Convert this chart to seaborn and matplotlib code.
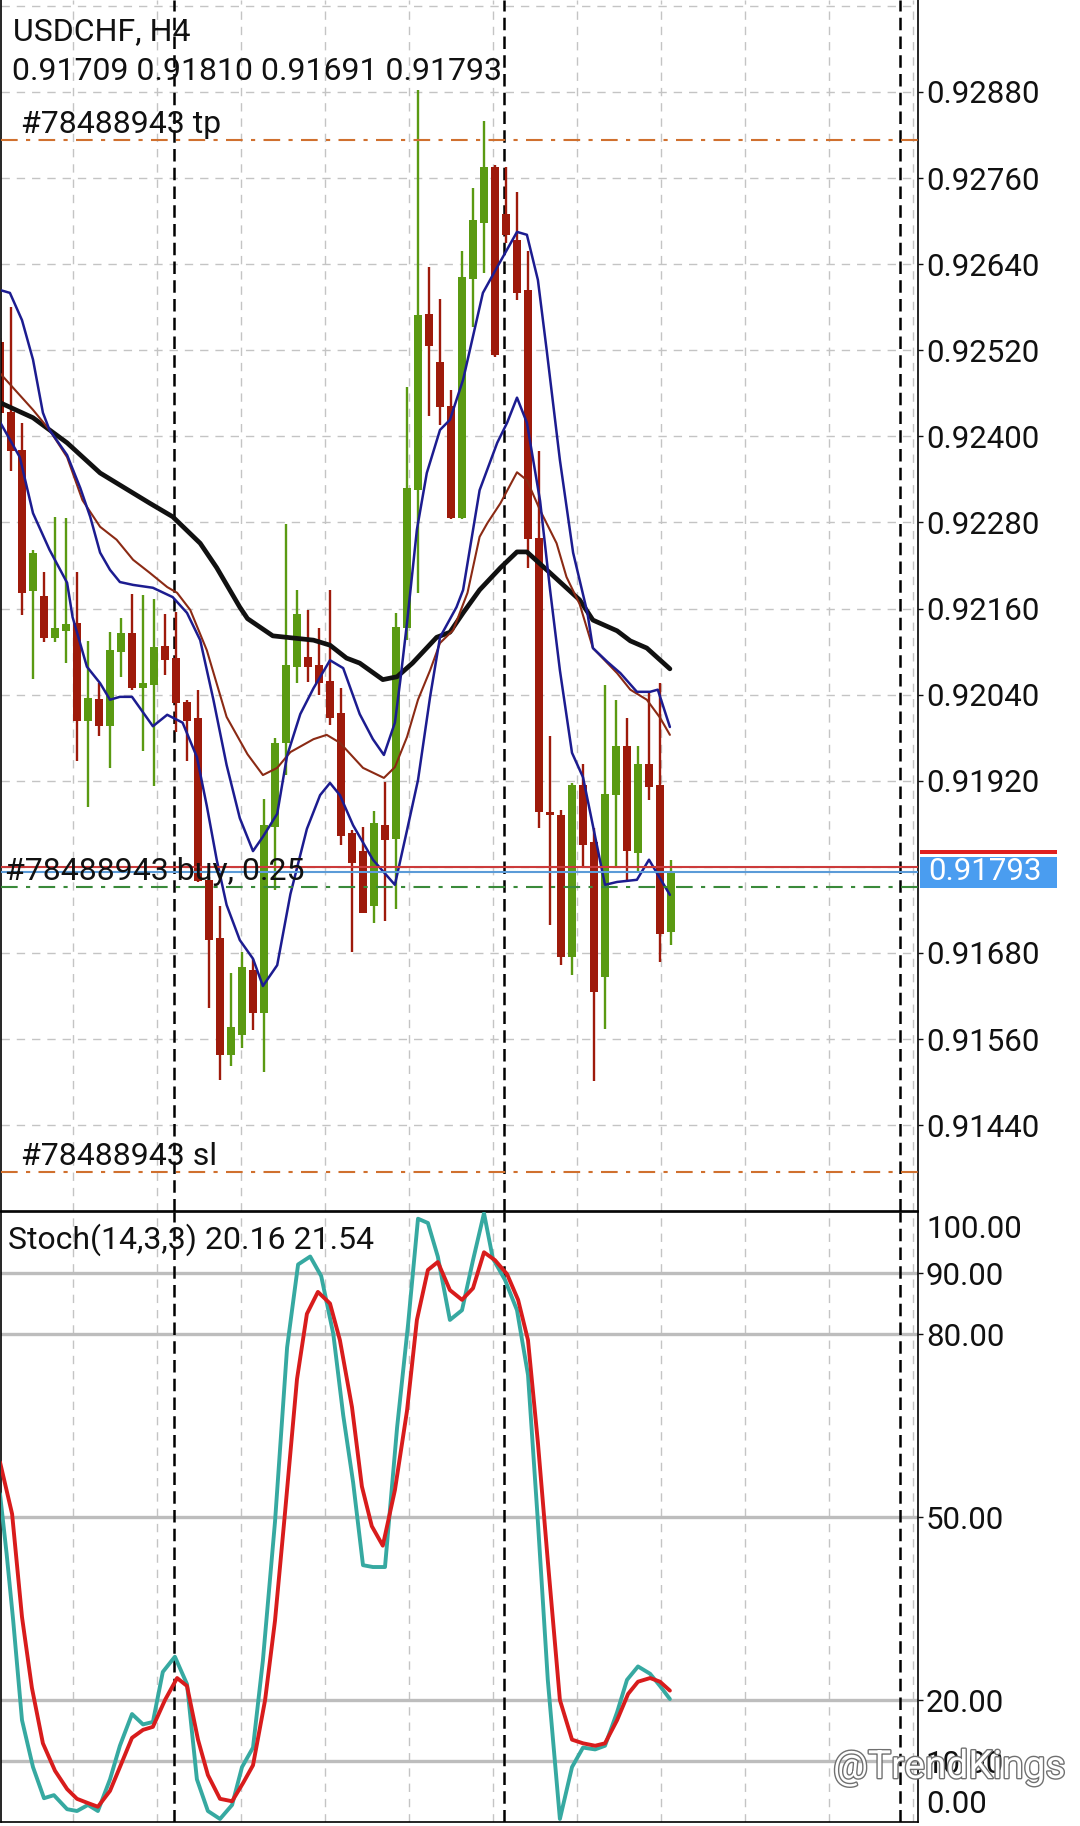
import matplotlib
matplotlib.use("Agg")
import matplotlib.pyplot as plt
import matplotlib.patheffects as pe
import matplotlib.transforms as mtransforms
from matplotlib.patches import Rectangle
import seaborn as sns

# ---------------- data ----------------
SYMBOL = "USDCHF, H4"
ORDER_ID = "#78488943"

OPEN = [0.92531, 0.92434, 0.92381, 0.92184, 0.92178, 0.92119, 0.92129, 0.92140, 0.92004, 0.92034,
        0.91996, 0.92100, 0.92126, 0.92049, 0.92054, 0.92108, 0.92091, 0.92030, 0.92007, 0.91782,
        0.91701, 0.91538, 0.91565, 0.91656, 0.91596, 0.91856, 0.91973, 0.92079, 0.92093, 0.92081,
        0.92059, 0.92015, 0.91847, 0.91822, 0.91745, 0.91859, 0.91839, 0.92133, 0.92325, 0.92571,
        0.92504, 0.92443, 0.92286, 0.92619, 0.92698, 0.92775, 0.92710, 0.92674, 0.92604, 0.92258,
        0.91877, 0.91873, 0.91675, 0.91914, 0.91834, 0.91647, 0.91900, 0.91968, 0.91819, 0.91944,
        0.91914, 0.91709]
HIGH = [0.92537, 0.92581, 0.92418, 0.92242, 0.92211, 0.92288, 0.92286, 0.92211, 0.92115, 0.92056,
        0.92127, 0.92147, 0.92181, 0.92179, 0.92173, 0.92152, 0.92155, 0.92033, 0.92046, 0.91786,
        0.91746, 0.91652, 0.91682, 0.91672, 0.91895, 0.91980, 0.92278, 0.92186, 0.92158, 0.92133,
        0.92186, 0.92050, 0.91851, 0.91856, 0.91878, 0.91918, 0.92154, 0.92469, 0.92883, 0.92636,
        0.92591, 0.92465, 0.92659, 0.92746, 0.92839, 0.92778, 0.92775, 0.92741, 0.92659, 0.92379,
        0.91983, 0.91879, 0.91917, 0.91944, 0.91854, 0.92054, 0.92033, 0.92007, 0.91968, 0.92042,
        0.92056, 0.91810]
LOW = [0.92430, 0.92352, 0.92151, 0.92062, 0.92113, 0.92114, 0.92084, 0.91948, 0.91883, 0.91983,
       0.91938, 0.92064, 0.92047, 0.91962, 0.91913, 0.92068, 0.91988, 0.91948, 0.91779, 0.91603,
       0.91503, 0.91523, 0.91548, 0.91573, 0.91514, 0.91768, 0.91928, 0.92056, 0.92058, 0.92040,
       0.91998, 0.91831, 0.91682, 0.91736, 0.91722, 0.91724, 0.91741, 0.92116, 0.92182, 0.92428,
       0.92416, 0.92285, 0.92285, 0.92553, 0.92628, 0.92511, 0.92670, 0.92590, 0.92216, 0.91854,
       0.91719, 0.91663, 0.91649, 0.91800, 0.91502, 0.91574, 0.91800, 0.91780, 0.91793, 0.91893,
       0.91667, 0.91691]
CLOSE = [0.92432, 0.92380, 0.92182, 0.92237, 0.92119, 0.92133, 0.92139, 0.92004, 0.92035, 0.91996,
         0.92102, 0.92126, 0.92050, 0.92056, 0.92106, 0.92089, 0.92028, 0.92004, 0.91780, 0.91698,
         0.91538, 0.91577, 0.91660, 0.91596, 0.91858, 0.91973, 0.92081, 0.92153, 0.92079, 0.92056,
         0.92008, 0.91843, 0.91805, 0.91736, 0.91861, 0.91838, 0.92134, 0.92328, 0.92569, 0.92526,
         0.92441, 0.92286, 0.92622, 0.92701, 0.92775, 0.92514, 0.92681, 0.92600, 0.92257, 0.91876,
         0.91873, 0.91675, 0.91914, 0.91831, 0.91625, 0.91901, 0.91968, 0.91822, 0.91944, 0.91912,
         0.91707, 0.91793]

# indicator lines: bar position, price
UP_X = [0.0, 0.9, 2.0, 3.0, 3.9, 4.5, 6.1, 7.3, 8.2, 9.1, 10.0, 10.9, 12.1, 13.9, 15.7, 17.0, 18.2,
        19.4, 20.6, 21.8, 23.0, 23.9, 25.2, 26.1, 27.3, 28.5, 30.0, 31.2, 32.7, 33.9, 34.9, 35.9,
        36.4, 37.0, 37.9, 38.8, 40.0, 40.9, 42.1, 43.9, 45.2, 47.0, 47.9, 48.9, 49.7, 50.9, 52.1,
        53.4, 53.9, 55.2, 56.4, 57.9, 59.1, 59.8, 60.9]
UP_Y = [0.92604, 0.92600, 0.92562, 0.92507, 0.92433, 0.92409, 0.92374, 0.92328, 0.92288, 0.92238,
        0.92214, 0.92197, 0.92193, 0.92189, 0.92176, 0.92154, 0.92116, 0.92033, 0.91942, 0.91868,
        0.91822, 0.91842, 0.91874, 0.91955, 0.92013, 0.92049, 0.92088, 0.92077, 0.92013, 0.91978,
        0.91956, 0.92001, 0.92061, 0.92140, 0.92270, 0.92349, 0.92409, 0.92423, 0.92479, 0.92600,
        0.92636, 0.92685, 0.92681, 0.92618, 0.92520, 0.92367, 0.92238, 0.92154, 0.92105, 0.92086,
        0.92070, 0.92044, 0.92044, 0.92047, 0.91995]
LO_X = [0.0, 1.8, 3.0, 4.5, 6.1, 6.6, 7.9, 9.1, 10.0, 10.9, 12.0, 13.9, 15.2, 16.6, 17.9, 18.8, 19.7,
        20.6, 21.8, 23.0, 23.9, 25.2, 26.4, 27.9, 29.1, 30.0, 30.9, 32.1, 33.9, 35.9, 37.0, 38.0,
        39.1, 40.0, 41.5, 42.1, 43.6, 45.2, 46.1, 47.0, 47.9, 49.1, 50.0, 50.9, 52.0, 53.0, 55.0,
        56.1, 57.9, 59.0, 60.9]
LO_Y = [0.92420, 0.92371, 0.92293, 0.92242, 0.92196, 0.92148, 0.92079, 0.92056, 0.92033, 0.92037,
        0.92037, 0.91996, 0.92012, 0.92001, 0.91953, 0.91885, 0.91810, 0.91747, 0.91698, 0.91672,
        0.91634, 0.91663, 0.91762, 0.91853, 0.91900, 0.91917, 0.91900, 0.91858, 0.91810, 0.91775,
        0.91851, 0.91921, 0.92037, 0.92120, 0.92162, 0.92186, 0.92325, 0.92391, 0.92419, 0.92454,
        0.92419, 0.92310, 0.92187, 0.92074, 0.91959, 0.91925, 0.91775, 0.91779, 0.91782, 0.91810,
        0.91761]
MID_X = [0.0, 3.0, 4.5, 6.1, 7.5, 9.1, 10.6, 12.1, 13.6, 15.2, 16.1, 17.3, 18.8, 20.6, 22.5, 23.9,
         25.2, 26.4, 28.5, 29.7, 30.9, 33.0, 34.9, 35.9, 37.0, 38.0, 39.1, 40.0, 41.2, 42.5, 43.6,
         44.3, 45.5, 47.0, 47.9, 49.1, 50.6, 51.5, 52.7, 53.9, 56.1, 57.3, 58.8, 60.0, 60.9]
MID_Y = [0.92488, 0.92437, 0.92409, 0.92371, 0.92311, 0.92274, 0.92256, 0.92228, 0.92210, 0.92190,
         0.92182, 0.92158, 0.92102, 0.92009, 0.91957, 0.91928, 0.91938, 0.91960, 0.91978, 0.91984,
         0.91973, 0.91938, 0.91924, 0.91939, 0.91981, 0.92033, 0.92074, 0.92112, 0.92130, 0.92182,
         0.92260, 0.92279, 0.92307, 0.92350, 0.92339, 0.92297, 0.92251, 0.92204, 0.92166, 0.92105,
         0.92070, 0.92047, 0.92033, 0.92008, 0.91984]
MA_X = [0.0, 3.0, 6.1, 9.1, 12.1, 13.6, 15.7, 18.2, 19.7, 21.8, 22.5, 24.8, 28.5, 30.0, 31.5, 32.7,
        34.8, 36.1, 37.5, 39.7, 40.9, 42.1, 43.6, 45.5, 47.0, 47.9, 49.7, 51.2, 52.7, 53.9, 56.1,
        57.3, 58.8, 60.9]
MA_Y = [0.92447, 0.92426, 0.92391, 0.92349, 0.92321, 0.92307, 0.92288, 0.92251, 0.92217, 0.92162,
        0.92146, 0.92122, 0.92116, 0.92109, 0.92091, 0.92084, 0.92061, 0.92065, 0.92084, 0.92120,
        0.92127, 0.92154, 0.92186, 0.92217, 0.92239, 0.92239, 0.92214, 0.92193, 0.92172, 0.92144,
        0.92129, 0.92115, 0.92105, 0.92076]

# stochastic (14,3,3)
K_X = [0.0, 0.6, 1.2, 2.0, 3.0, 4.0, 4.9, 6.1, 7.0, 8.0, 8.9, 10.0, 10.9, 12.0, 13.0, 13.9, 14.8,
       15.9, 17.0, 17.9, 18.9, 20.0, 21.1, 22.0, 23.0, 23.9, 25.0, 26.1, 27.1, 28.2, 29.2, 30.3,
       31.2, 32.1, 33.0, 33.9, 35.0, 36.1, 37.1, 38.0, 38.9, 39.8, 40.9, 42.0, 43.0, 44.0, 44.8,
       45.9, 47.0, 48.0, 48.9, 49.8, 50.9, 52.0, 53.0, 54.1, 55.0, 56.1, 57.0, 58.0, 59.1, 60.0, 60.9]
K_V = [53.8, 44.0, 33.0, 16.7, 9.0, 3.9, 4.4, 2.1, 1.8, 2.8, 1.8, 7.0, 12.5, 17.7, 16.0, 16.4, 24.6,
       27.1, 22.6, 7.0, 1.8, 0.5, 2.8, 9.0, 12.2, 26.5, 49.2, 77.8, 91.4, 92.7, 89.5, 80.0, 66.7,
       55.7, 42.1, 41.8, 41.8, 64.7, 81.6, 98.9, 98.2, 92.7, 82.3, 83.9, 92.1, 99.8, 92.4, 88.9,
       83.9, 73.3, 49.2, 23.3, 0.5, 9.0, 12.2, 11.9, 12.5, 18.0, 23.3, 25.5, 24.3, 22.3, 20.16]
D_X = [0.0, 1.1, 2.0, 2.9, 3.9, 5.0, 6.1, 7.0, 8.0, 8.9, 10.0, 10.9, 12.0, 13.0, 13.9, 15.0, 16.1,
       17.0, 18.0, 18.9, 20.0, 21.1, 22.1, 23.0, 24.1, 25.0, 25.9, 27.0, 27.9, 28.9, 30.0, 30.9,
       32.0, 32.9, 33.8, 34.8, 35.9, 37.0, 37.9, 38.9, 39.8, 40.9, 42.0, 43.0, 44.0, 45.0, 46.1,
       47.1, 48.0, 48.9, 49.8, 50.9, 52.0, 53.0, 54.1, 55.0, 56.1, 57.1, 58.0, 59.1, 60.0, 60.9]
D_V = [59.0, 50.5, 33.6, 22.0, 12.9, 8.4, 5.4, 3.8, 3.1, 2.5, 5.1, 9.0, 13.8, 15.1, 15.6, 20.0, 23.6,
       22.3, 13.5, 7.7, 3.8, 3.4, 6.4, 9.3, 20.0, 33.0, 50.5, 72.6, 83.3, 86.9, 85.0, 79.0, 68.0,
       55.0, 48.5, 45.3, 54.4, 67.4, 82.3, 90.5, 91.8, 87.2, 85.6, 87.5, 93.4, 92.1, 89.8, 85.6,
       79.0, 62.2, 42.8, 20.0, 13.5, 12.9, 12.5, 12.9, 16.7, 21.0, 23.0, 23.6, 23.0, 21.54]

PRICE_TICKS = [0.91440, 0.91560, 0.91680, 0.91920, 0.92040, 0.92160, 0.92280, 0.92400,
               0.92520, 0.92640, 0.92760, 0.92880]
PRICE_GRID = [0.91440, 0.91560, 0.91680, 0.91800, 0.91920, 0.92040, 0.92160, 0.92280, 0.92400,
              0.92520, 0.92640, 0.92760, 0.92880, 0.93000]
STOCH_LEVELS = [10, 20, 50, 80, 90]

TP_PRICE = 0.92813
SL_PRICE = 0.91375
ENTRY_PRICE = 0.91772
ASK_PRICE = 0.91800
BID_PRICE = 0.91793

# ---------------- styling / layout ----------------
sns.set_theme(style="white")
plt.rcParams['font.family'] = ['Roboto', 'DejaVu Sans']

W, H = 1080, 1826
BAR_PX = 11.0
L_PX, R_PX = 1, 918
MAIN_BOT = 1211
STO_TOP, STO_BOT = 1212, 1822

fig = plt.figure(figsize=(W / 100, H / 100), dpi=100)
fig.patch.set_facecolor("white")
ax = fig.add_axes([L_PX / W, 1 - MAIN_BOT / H, (R_PX - L_PX) / W, MAIN_BOT / H])
ax2 = fig.add_axes([L_PX / W, 1 - STO_BOT / H, (R_PX - L_PX) / W, (STO_BOT - STO_TOP) / H])

RED = "#9e1a0b"
GREEN = "#5a9a12"
NAVY = "#1c1c90"
BROWN = "#8b2a14"
TEXT = "#111111"
GRID = "#c4c4c4"

grid_px = [72.7 + 84.0 * k for k in range(11)]
sep_px = [174, 504, 900]

for a in (ax, ax2):
    a.set_facecolor("white")
    for gx in grid_px:
        a.axvline(gx / BAR_PX, color=GRID, lw=1.0, ls=(0, (6, 5)), zorder=0.5)
    for sx in sep_px:
        a.axvline(sx / BAR_PX, color="black", lw=1.8, ls=(0, (5, 2.5)), zorder=1.5)

for gy in PRICE_GRID:
    ax.axhline(gy, color=GRID, lw=1.0, ls=(0, (6, 5)), zorder=0.5)

# candles
idx = list(range(len(OPEN)))
cols = [GREEN if c >= o else RED for o, c in zip(OPEN, CLOSE)]
ax.vlines(idx, LOW, HIGH, colors=cols, lw=1.7, zorder=2)
bottoms = [min(o, c) for o, c in zip(OPEN, CLOSE)]
heights = [max(abs(c - o), 0.00003) for o, c in zip(OPEN, CLOSE)]
ax.bar(idx, heights, bottom=bottoms, width=0.68, color=cols, edgecolor="none", zorder=2.2)

# indicator lines
sns.lineplot(x=MA_X, y=MA_Y, ax=ax, color="#111111", lw=3.4, sort=False, estimator=None, zorder=3)
sns.lineplot(x=MID_X, y=MID_Y, ax=ax, color=BROWN, lw=1.5, sort=False, estimator=None, zorder=3.1)
sns.lineplot(x=UP_X, y=UP_Y, ax=ax, color=NAVY, lw=1.8, sort=False, estimator=None, zorder=3.2)
sns.lineplot(x=LO_X, y=LO_Y, ax=ax, color=NAVY, lw=1.8, sort=False, estimator=None, zorder=3.2)

# order / price lines
ax.axhline(TP_PRICE, color="#d0702e", lw=1.5, ls=(0, (8, 4, 2, 4)), zorder=4)
ax.axhline(SL_PRICE, color="#d0702e", lw=1.5, ls=(0, (8, 4, 2, 4)), zorder=4)
ax.axhline(ENTRY_PRICE, color="#3a8a3a", lw=1.5, ls=(0, (8, 4, 2, 4)), zorder=4)
ax.axhline(ASK_PRICE, color="#cc3b3b", lw=1.5, zorder=4)
ax.axhline(BID_PRICE, color="#5b9bd8", lw=1.5, zorder=4)

ax.set_xlim(L_PX / BAR_PX, R_PX / BAR_PX)
ax.set_ylim(0.913204, 0.930082)
ax.set_xticks([])
ax.yaxis.tick_right()
ax.set_yticks(PRICE_TICKS)
ax.set_yticklabels([f"{t:.5f}" for t in PRICE_TICKS])
ax.tick_params(axis="y", which="both", right=True, left=False, length=3.6, width=1.0,
               pad=2.0, labelsize=22.5, colors=TEXT, direction="out")
ax.set_xlabel("")
ax.set_ylabel("")
for s in ("left", "right", "bottom"):
    ax.spines[s].set_visible(True)
    ax.spines[s].set_color("black")
    ax.spines[s].set_linewidth(1.2)
ax.spines["top"].set_visible(False)

# current price box
trans = mtransforms.blended_transform_factory(ax.transAxes, ax.transData)
bx0 = (920 - L_PX) / (R_PX - L_PX)
bw = (1057 - 920) / (R_PX - L_PX)
ax.add_patch(Rectangle((bx0, BID_PRICE - 0.000226), bw, 0.000432, transform=trans,
                       facecolor="#4a9df0", edgecolor="none", clip_on=False, zorder=6))
ax.add_patch(Rectangle((bx0, 0.91818), bw, 0.000056, transform=trans,
                       facecolor="#e02020", edgecolor="none", clip_on=False, zorder=6))
ax.text(bx0 + 8 / (R_PX - L_PX), BID_PRICE, f"{BID_PRICE:.5f}", transform=trans, color="white",
        fontsize=22.5, va="center", ha="left", zorder=7, clip_on=False)

# stochastic panel
for lv in STOCH_LEVELS:
    ax2.axhline(lv, color="#bdbdbd", lw=2.4, zorder=1)
sns.lineplot(x=K_X, y=K_V, ax=ax2, color="#36a9a1", lw=2.8, sort=False, estimator=None, zorder=3)
sns.lineplot(x=D_X, y=D_V, ax=ax2, color="#d81c1c", lw=2.8, sort=False, estimator=None, zorder=3.2)
ax2.set_xlim(L_PX / BAR_PX, R_PX / BAR_PX)
ax2.set_ylim(0, 100)
ax2.set_xticks([])
ax2.yaxis.tick_right()
ax2.set_yticks(STOCH_LEVELS)
ax2.set_yticklabels([f"{v:.2f}" for v in STOCH_LEVELS])
ax2.tick_params(axis="y", right=True, left=False, length=3.6, width=1.0, pad=2.0,
                labelsize=22.5, colors=TEXT, direction="out")
ax2.set_xlabel("")
ax2.set_ylabel("")
for s in ("left", "right", "bottom", "top"):
    ax2.spines[s].set_visible(True)
    ax2.spines[s].set_color("black")
    ax2.spines[s].set_linewidth(1.2)
trans2 = mtransforms.blended_transform_factory(ax2.transAxes, ax2.transData)
lx = (926 - L_PX) / (R_PX - L_PX)
ax2.text(lx, 97.2, "100.00", transform=trans2, fontsize=22.5, color=TEXT, va="center",
         ha="left", clip_on=False)
ax2.text(lx, 2.8, "0.00", transform=trans2, fontsize=22.5, color=TEXT, va="center",
         ha="left", clip_on=False)

# texts
def ftext(x, y, s, **kw):
    kw.setdefault("fontsize", 23)
    kw.setdefault("color", TEXT)
    fig.text(x / W, 1 - y / H, s, va="baseline", ha="left", zorder=8, **kw)

ftext(13, 40, SYMBOL)
ftext(12, 80, " ".join(f"{v:.5f}" for v in (OPEN[-1], HIGH[-1], LOW[-1], CLOSE[-1])))
ftext(21, 133, f"{ORDER_ID} tp")
ftext(21, 1165, f"{ORDER_ID} sl")
ftext(5, 880, f"{ORDER_ID} buy, 0.25")
ftext(8, 1249, f"Stoch(14,3,3) {K_V[-1]:.2f} {D_V[-1]:.2f}")

fig.text(833 / W, 1 - 1778 / H, "@TrendKings", fontsize=28, color="white", va="baseline",
         ha="left", zorder=10,
         path_effects=[pe.withStroke(linewidth=2.0, foreground="#707070")])

fig.savefig("out.png", dpi=100)
